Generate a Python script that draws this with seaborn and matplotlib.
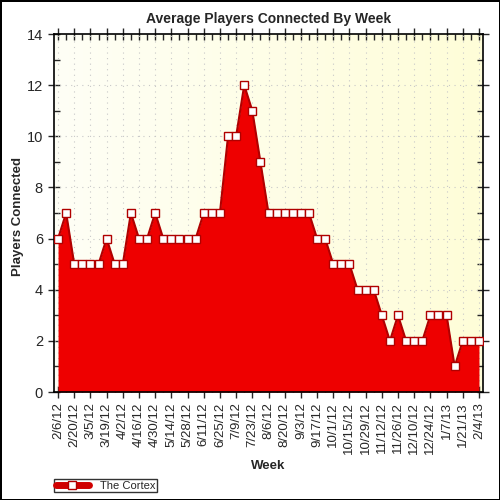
import matplotlib
matplotlib.use('Agg')
import matplotlib.pyplot as plt
import pandas as pd
import numpy as np
import seaborn as sns
from matplotlib.ticker import MultipleLocator

# weekly averages, one value per Monday from 2/6/12 to 2/4/13
weeks = pd.date_range('2012-02-06', '2013-02-04', freq='7D')
players = [6, 7, 5, 5, 5, 5, 6, 5, 5, 7, 6, 6, 7, 6, 6, 6, 6, 6,
           7, 7, 7, 10, 10, 12, 11, 9, 7, 7, 7, 7, 7, 7, 6, 6,
           5, 5, 5, 4, 4, 4, 3, 2, 3, 2, 2, 2, 3, 3, 3, 1, 2, 2, 2]
series_name = 'The Cortex'

df = pd.DataFrame({'week': np.arange(len(weeks)), 'players': players})
week_labels = [f'{d.month}/{d.day}/{d.strftime("%y")}' for d in weeks]

sns.set_style('white')
plt.rcParams['font.family'] = ['Liberation Sans', 'DejaVu Sans']

fig = plt.figure(figsize=(5, 5), dpi=100)
fig.patch.set_facecolor('white')
fig.patch.set_edgecolor('black')
fig.patch.set_linewidth(2)
ax = fig.add_axes([0.108, 0.216, 0.858, 0.716])

# light yellow gradient background
grad = np.linspace(0, 1, 256).reshape(1, -1)
ax.imshow(grad, extent=[-0.5, len(weeks) - 0.5, 0, 14], aspect='auto',
          cmap=matplotlib.colors.LinearSegmentedColormap.from_list('bg', ['#fffff6', '#fefdd8']),
          zorder=0)

# grid
for y in range(2, 14, 2):
    ax.axhline(y, color='#c8c8c8', lw=0.8, ls=(0, (1, 4)), zorder=1)
for x in range(0, len(weeks), 2):
    ax.axvline(x, color='#c8c8c8', lw=0.8, ls=(0, (1, 4)), zorder=1)

ax.fill_between(df['week'], 0, df['players'], color='#ee0000', lw=0, zorder=2)
sns.lineplot(data=df, x='week', y='players', ax=ax, color='#b00000', lw=1.5,
             marker='s', markersize=6, markerfacecolor='white',
             markeredgecolor='#b00000', markeredgewidth=1,
             label=series_name, zorder=3)

ax.set_xlim(-0.5, len(weeks) - 0.5)
ax.set_ylim(0, 14)
ax.set_xticks(df['week'][::2])
ax.set_xticklabels(week_labels[::2], rotation=90, fontsize=9.5)
ax.xaxis.set_minor_locator(MultipleLocator(1))
ax.yaxis.set_major_locator(MultipleLocator(2))
ax.yaxis.set_minor_locator(MultipleLocator(1))
ax.tick_params(axis='y', which='major', direction='inout', length=8, width=1,
               labelsize=10.5, left=True, right=True, pad=4)
ax.tick_params(axis='y', which='minor', direction='in', length=4, width=1, left=True, right=True)
ax.tick_params(axis='x', which='major', direction='inout', length=8, width=1, bottom=True, top=True)
ax.tick_params(axis='x', which='minor', direction='in', length=4, width=1, bottom=True, top=True)
for s in ax.spines.values():
    s.set_color('black')
    s.set_linewidth(1.2)

ax.set_title('Average Players Connected By Week', fontsize=10, fontweight='bold', pad=8)
ax.set_xlabel('Week', fontsize=9.5, fontweight='bold', labelpad=4)
ax.set_ylabel('Players Connected', fontsize=9.5, fontweight='bold')
ax.yaxis.set_label_coords(-0.07, 0.49)

leg = ax.legend(loc='lower left', bbox_to_anchor=(0.0, -0.28), frameon=True,
                fancybox=False, fontsize=8, handlelength=3.0, borderpad=0.15,
                handletextpad=1.0, edgecolor='black', borderaxespad=0)
leg.get_frame().set_linewidth(1)
for h in leg.get_lines():
    h.set_linewidth(5)
    h.set_color('#d00000')

fig.savefig('out.png', dpi=100, edgecolor=fig.get_edgecolor())
